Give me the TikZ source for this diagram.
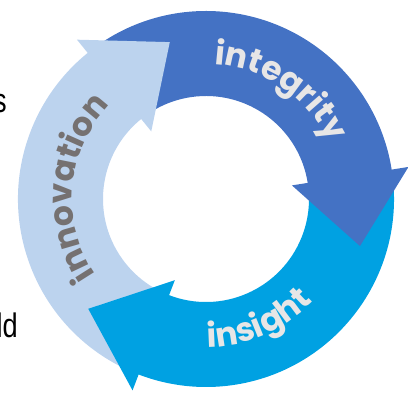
\documentclass[tikz,border=0pt]{standalone}
\usepackage{fontspec}
\usepackage{graphicx}
\usetikzlibrary{decorations.text}
\setmainfont{Liberation Sans}
\newfontfamily\ringfont{Poppins}
\definecolor{darkblue}{HTML}{4472C4}
\definecolor{brightblue}{HTML}{00A1E2}
\definecolor{lightblue}{HTML}{BCD3EE}
\definecolor{lighttext}{HTML}{E7E6E6}
\definecolor{greytext}{HTML}{757171}
\begin{document}
\begin{tikzpicture}[
  sidetext/.style={inner sep=0pt, anchor=base east, font=\fontsize{34}{36}\selectfont},
  ringword/.style={decorate, decoration={text along path, text align=center, text={#1}}}
]
\useasboundingbox (-206pt,-195pt) rectangle (202pt,199pt);
\clip (-206pt,-195pt) rectangle (202pt,199pt);

% cut-off slide text at the left
\node[sidetext, name=sfrag] at (-199pt,86pt) {\scalebox{0.8}[1]{s}};
\node[sidetext, name=ldfrag] at (-188pt,-138pt) {\scalebox{0.8}[1]{ld}};

% ring bodies
\fill[lightblue] (248:188pt) arc[start angle=248, end angle=128.5, radius=188pt]
  -- (128.5:103pt) arc[start angle=128.5, end angle=248, radius=103pt] -- cycle;
\fill[darkblue] (128:188pt) arc[start angle=128, end angle=8.5, radius=188pt]
  -- (8.5:103pt) arc[start angle=8.5, end angle=128, radius=103pt] -- cycle;
\fill[brightblue] (8:188pt) arc[start angle=8, end angle=-111.5, radius=188pt]
  -- (-111.5:103pt) arc[start angle=-111.5, end angle=8, radius=103pt] -- cycle;

% arrowheads
\fill[lightblue] (129:87pt) -- (129:205pt) -- (103:161pt) -- cycle;
\fill[darkblue] (9:87pt) -- (9:205pt) -- (-17:161pt) -- cycle;
\fill[brightblue] (249:87pt) -- (249:205pt) -- (223:161pt) -- cycle;

% words along the ring
\path[ringword={|\ringfont\bfseries\fontsize{33}{35}\selectfont\color{lighttext}|integrity}]
  (100:135pt) arc[start angle=100, end angle=11, radius=135pt];
\path[ringword={|\ringfont\bfseries\fontsize{33}{35}\selectfont\color{lighttext}|insight}]
  (250:148pt) arc[start angle=250, end angle=337, radius=148pt];
\path[ringword={|\ringfont\bfseries\fontsize{33}{35}\selectfont\color{greytext}|innovation}]
  (240:134pt) arc[start angle=240, end angle=110, radius=134pt];
\end{tikzpicture}
\end{document}
